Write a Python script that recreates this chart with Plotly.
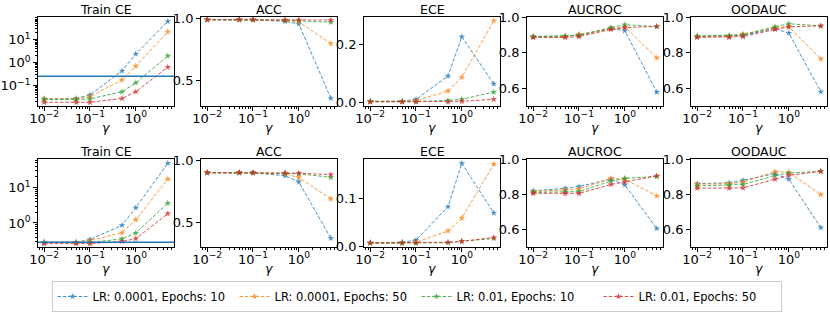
import plotly.graph_objects as go

# ---------------- data ----------------
gammas = [0.01, 0.05, 0.1, 0.5, 1, 5]
series_names = ["LR: 0.0001, Epochs: 10", "LR: 0.0001, Epochs: 50",
                "LR: 0.01, Epochs: 10", "LR: 0.01, Epochs: 50"]
series_colors = ["#1f77b4", "#ff7f0e", "#2ca02c", "#d62728"]
metric_titles = ["Train CE", "ACC", "ECE", "AUCROC", "OODAUC"]

top_train_ce = [[0.027, 0.028, 0.040, 0.44, 2.4, 63],
                [0.027, 0.027, 0.034, 0.18, 0.72, 22],
                [0.025, 0.025, 0.027, 0.055, 0.135, 2.0],
                [0.019, 0.019, 0.019, 0.028, 0.055, 0.65]]
top_acc = [[0.988, 0.988, 0.987, 0.975, 0.955, 0.362],
           [0.988, 0.988, 0.987, 0.980, 0.973, 0.797],
           [0.988, 0.988, 0.988, 0.985, 0.980, 0.968],
           [0.989, 0.989, 0.989, 0.988, 0.988, 0.986]]
top_ece = [[0.005, 0.006, 0.012, 0.092, 0.227, 0.065],
           [0.005, 0.005, 0.008, 0.041, 0.088, 0.282],
           [0.004, 0.004, 0.004, 0.008, 0.012, 0.037],
           [0.003, 0.003, 0.003, 0.003, 0.005, 0.012]]
top_aucroc = [[0.890, 0.892, 0.900, 0.935, 0.923, 0.578],
              [0.888, 0.890, 0.902, 0.935, 0.945, 0.770],
              [0.890, 0.893, 0.897, 0.940, 0.957, 0.945],
              [0.885, 0.885, 0.890, 0.930, 0.940, 0.948]]
top_oodauc = [[0.890, 0.892, 0.897, 0.935, 0.910, 0.580],
              [0.890, 0.893, 0.905, 0.940, 0.945, 0.765],
              [0.893, 0.895, 0.900, 0.945, 0.962, 0.950],
              [0.885, 0.886, 0.890, 0.930, 0.945, 0.950]]

bot_train_ce = [[0.285, 0.285, 0.34, 0.86, 2.7, 49],
                [0.285, 0.285, 0.32, 0.53, 1.24, 17.5],
                [0.28, 0.28, 0.28, 0.355, 0.52, 3.65],
                [0.26, 0.26, 0.26, 0.30, 0.36, 1.83]]
bot_acc = [[0.899, 0.899, 0.897, 0.875, 0.825, 0.376],
           [0.899, 0.899, 0.898, 0.890, 0.860, 0.690],
           [0.898, 0.898, 0.898, 0.895, 0.890, 0.862],
           [0.899, 0.899, 0.899, 0.898, 0.895, 0.883]]
bot_ece = [[0.007, 0.008, 0.0126, 0.083, 0.175, 0.070],
           [0.006, 0.006, 0.008, 0.032, 0.059, 0.173],
           [0.006, 0.006, 0.006, 0.007, 0.010, 0.016],
           [0.007, 0.007, 0.007, 0.008, 0.010, 0.018]]
bot_aucroc = [[0.819, 0.833, 0.844, 0.885, 0.853, 0.605],
              [0.815, 0.825, 0.830, 0.890, 0.885, 0.790],
              [0.810, 0.815, 0.815, 0.875, 0.890, 0.900],
              [0.805, 0.805, 0.805, 0.855, 0.870, 0.905]]
bot_oodauc = [[0.860, 0.865, 0.879, 0.917, 0.885, 0.610],
              [0.857, 0.860, 0.869, 0.928, 0.924, 0.798],
              [0.847, 0.850, 0.855, 0.905, 0.920, 0.930],
              [0.834, 0.834, 0.836, 0.885, 0.907, 0.930]]

train_ce_reference = [0.26, 0.285]   # horizontal reference line per row

# ---------------- layout ----------------
W, H = 830, 314
FONT = "DejaVu Sans"
panel_left = [38, 201, 364, 527, 691]
panel_w = 136
row_top = [17, 159]
row_bot = [106, 247]

rows_data = [[top_train_ce, top_acc, top_ece, top_aucroc, top_oodauc],
             [bot_train_ce, bot_acc, bot_ece, bot_aucroc, bot_oodauc]]

y_ranges = [[[-1.88, 1.99], [0.30, 1.01], [-0.011, 0.295], [0.5, 1.0], [0.5, 1.0]],
            [[-0.68, 1.81], [0.306, 1.008], [-0.002, 0.184], [0.5, 1.0], [0.5, 1.0]]]
y_ticks = [[[0.1, 1, 10], [0.5, 1.0], [0.0, 0.2], [0.6, 0.8, 1.0], [0.6, 0.8, 1.0]],
           [[1, 10], [0.5, 1.0], [0.0, 0.1], [0.6, 0.8, 1.0], [0.6, 0.8, 1.0]]]

def pow_label(v):
    import math
    e = int(round(math.log10(v)))
    s = str(e).replace("-", "\u2212")
    return "10<sup>" + s + "</sup>"

def minor_log(lo, hi):
    vals = []
    for k in range(lo, hi + 1):
        for m in range(2, 10):
            vals.append(m * 10 ** k)
    return vals

fig = go.Figure()
annotations = []
shapes = []
axis_font = dict(family=FONT, size=13, color="black")

for r in range(2):
    for c in range(5):
        idx = r * 5 + c + 1
        xa = "x" if idx == 1 else f"x{idx}"
        ya = "y" if idx == 1 else f"y{idx}"
        xkey = "xaxis" if idx == 1 else f"xaxis{idx}"
        ykey = "yaxis" if idx == 1 else f"yaxis{idx}"
        data = rows_data[r][c]
        for s in range(4):
            fig.add_trace(go.Scatter(
                x=gammas, y=data[s], xaxis=xa, yaxis=ya,
                mode="lines+markers", name=series_names[s],
                showlegend=(idx == 1),
                opacity=0.8,
                line=dict(color=series_colors[s], width=1, dash="3.5px,1.8px"),
                marker=dict(symbol="star", size=5, color=series_colors[s],
                            line=dict(width=0))))
        x0 = panel_left[c] / W
        x1 = (panel_left[c] + panel_w) / W
        y0 = 1 - row_bot[r] / H
        y1 = 1 - row_top[r] / H
        fig.layout[xkey] = dict(
            domain=[x0, x1], anchor=ya, type="log", range=[-2.135, 0.834],
            tickvals=[0.01, 0.1, 1], ticktext=[pow_label(v) for v in [0.01, 0.1, 1]],
            ticks="outside", ticklen=4, tickwidth=0.8, tickcolor="black",
            ticklabelstandoff=-4,
            minor=dict(ticks="outside", ticklen=2, tickwidth=0.6, tickcolor="black",
                       tickvals=minor_log(-3, 1)),
            showline=True, linecolor="black", linewidth=0.8, mirror=True,
            showgrid=False, zeroline=False, tickfont=axis_font, automargin=False)
        if c == 0:
            fig.layout[ykey] = dict(
                domain=[y0, y1], anchor=xa, type="log", range=y_ranges[r][c],
                tickvals=y_ticks[r][c], ticktext=[pow_label(v) for v in y_ticks[r][c]],
                ticks="outside", ticklen=4, tickwidth=0.8, tickcolor="black",
                minor=dict(ticks="outside", ticklen=2, tickwidth=0.6, tickcolor="black",
                           tickvals=minor_log(-3, 2)),
                showline=True, linecolor="black", linewidth=0.8, mirror=True,
                showgrid=False, zeroline=False, tickfont=axis_font, automargin=False)
            shapes.append(dict(type="line", xref=f"{xa} domain", yref=ya,
                               x0=0, x1=1, y0=train_ce_reference[r], y1=train_ce_reference[r],
                               line=dict(color="#1f77b4", width=1.5)))
        else:
            fig.layout[ykey] = dict(
                domain=[y0, y1], anchor=xa, range=y_ranges[r][c],
                tickvals=y_ticks[r][c], tickformat=".1f",
                ticks="outside", ticklen=4, tickwidth=0.8, tickcolor="black",
                showline=True, linecolor="black", linewidth=0.8, mirror=True,
                showgrid=False, zeroline=False, tickfont=axis_font, automargin=False)
        xc = (panel_left[c] + panel_w / 2) / W
        annotations.append(dict(
            text=metric_titles[c], x=xc, y=y1, xref="paper", yref="paper",
            xanchor="center", yanchor="bottom", yshift=-2, showarrow=False,
            font=dict(family=FONT, size=12.5, color="black")))
        annotations.append(dict(
            text="<i>γ</i>", x=xc, y=y0, xref="paper", yref="paper",
            xanchor="center", yanchor="top", yshift=-12, showarrow=False,
            font=dict(family=FONT, size=12.5, color="black")))

fig.update_layout(
    width=W, height=H,
    margin=dict(l=0, r=0, t=0, b=0, autoexpand=False),
    plot_bgcolor="white", paper_bgcolor="white",
    font=dict(family=FONT, size=12, color="black"),
    annotations=annotations,
    shapes=shapes,
    legend=dict(orientation="h", x=416.5 / W, xanchor="center",
                y=1 - 296.5 / H, yanchor="middle",
                bordercolor="#cccccc", borderwidth=1, bgcolor="white",
                font=dict(family=FONT, size=11.5, color="black"),
                entrywidth=137, entrywidthmode="pixels"),
)

fig.write_html("out.html",
               config={"displayModeBar": False},
               post_script="document.body.style.margin='0';document.body.style.overflow='hidden';")
